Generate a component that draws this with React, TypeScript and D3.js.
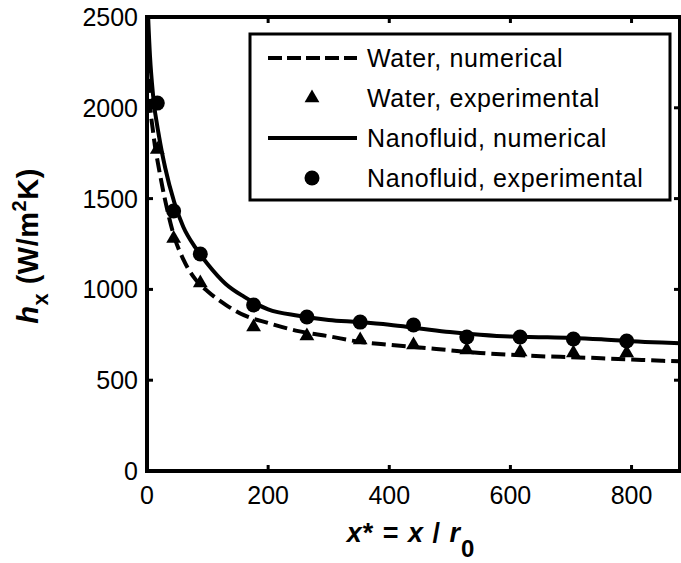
import React from "react";
import * as d3 from "d3";

const xTicks = [0, 200, 400, 600, 800];
const yTicks = [0, 500, 1000, 1500, 2000, 2500];

const xNum = [0, 5, 10, 20, 30, 45, 60, 80, 100, 130, 160, 200, 250, 300, 350, 400, 450, 500, 550, 600, 650, 700, 750, 800, 850, 880];
const waterNum = [2600, 2040, 1870, 1660, 1490, 1290, 1165, 1055, 990, 915, 858, 815, 770, 742, 712, 695, 680, 665, 650, 640, 632, 627, 621, 614, 607, 604];
const nanoNum = [2650, 2280, 2070, 1840, 1670, 1480, 1344, 1230, 1140, 1030, 960, 890, 855, 832, 820, 805, 785, 765, 750, 740, 737, 733, 725, 714, 707, 704];

const xExp = [17, 44, 88, 176, 264, 352, 440, 528, 616, 704, 792];
const waterExp = [1770, 1280, 1035, 793, 743, 721, 694, 666, 655, 650, 650];
const nanoExp = [2026, 1432, 1195, 914, 848, 820, 804, 738, 738, 727, 716];

const legendLabels = ["Water, numerical", "Water, experimental", "Nanofluid, numerical", "Nanofluid, experimental"];

const W = 681, H = 563;
const L = 147, R = 680, T = 17, B = 471;
const FONT = "'Liberation Sans', Arial, Helvetica, sans-serif";

export default function App() {
  const x = d3.scaleLinear().domain([0, 880]).range([L, R]);
  const y = d3.scaleLinear().domain([0, 2500]).range([B, T]);
  const line = d3.line<number>().x((_, i) => x(xNum[i])).y((v) => y(v)).curve(d3.curveMonotoneX);
  const tri = d3.symbol().type(d3.symbolTriangle).size(95);
  const triPath = tri() as string;

  const rows = [58, 98, 138, 178];
  return (
    <svg width={W} height={H} style={{ position: "absolute", left: 0, top: 0, background: "#fff" }} fontFamily={FONT}>
      <defs>
        <clipPath id="plotclip">
          <rect x={L} y={T} width={R - L} height={B - T} />
        </clipPath>
      </defs>
      <rect x={0} y={0} width={W} height={H} fill="#fff" />
      <g clipPath="url(#plotclip)">
        <path d={line(waterNum) || ""} fill="none" stroke="#000" strokeWidth={4} strokeDasharray="14 6" />
        <path d={line(nanoNum) || ""} fill="none" stroke="#000" strokeWidth={4} />
        {xExp.map((xv, i) => (
          <path key={"t" + i} d={triPath} transform={`translate(${x(xv)},${y(waterExp[i])})`} fill="#000" />
        ))}
        {xExp.map((xv, i) => (
          <circle key={"c" + i} cx={x(xv)} cy={y(nanoExp[i])} r={7.5} fill="#000" />
        ))}
      </g>
      {/* axes box */}
      <rect x={L} y={T} width={R - L} height={B - T} fill="none" stroke="#000" strokeWidth={4} />
      {xTicks.map((t) => (
        <g key={"xt" + t}>
          <line x1={x(t)} x2={x(t)} y1={B} y2={B - 6} stroke="#000" strokeWidth={3} />
          <line x1={x(t)} x2={x(t)} y1={T} y2={T + 6} stroke="#000" strokeWidth={3} />
          <text x={x(t)} y={504} textAnchor="middle" fontSize={25}>{t}</text>
        </g>
      ))}
      {yTicks.map((t) => (
        <g key={"yt" + t}>
          <line x1={L} x2={L + 6} y1={y(t)} y2={y(t)} stroke="#000" strokeWidth={3} />
          <line x1={R} x2={R - 6} y1={y(t)} y2={y(t)} stroke="#000" strokeWidth={3} />
          <text x={138} y={y(t) + 9} textAnchor="end" fontSize={25}>{t}</text>
        </g>
      ))}
      {/* x label */}
      <text x={411} y={542} textAnchor="middle" fontSize={27} fontWeight="bold" letterSpacing={1}>
        <tspan fontStyle="italic">x</tspan>
        <tspan>* = </tspan>
        <tspan fontStyle="italic">x</tspan>
        <tspan> / </tspan>
        <tspan fontStyle="italic">r</tspan>
        <tspan dy={15} fontSize={24}>0</tspan>
      </text>
      {/* y label */}
      <text transform={`translate(38,246) rotate(-90)`} textAnchor="middle" fontSize={29} fontWeight="bold" letterSpacing={0.5}>
        <tspan fontStyle="italic">h</tspan>
        <tspan dy={10} fontSize={22}>x</tspan>
        <tspan dy={-10}> (W/m</tspan>
        <tspan dy={-12} fontSize={20}>2</tspan>
        <tspan dy={12}>K)</tspan>
      </text>
      {/* legend */}
      <rect x={250} y={34} width={420} height={166} fill="#fff" stroke="#000" strokeWidth={3} />
      <line x1={268} x2={357} y1={rows[0]} y2={rows[0]} stroke="#000" strokeWidth={4} strokeDasharray="14 5" />
      <path d={triPath} transform={`translate(312,${rows[1]})`} fill="#000" />
      <line x1={268} x2={357} y1={rows[2]} y2={rows[2]} stroke="#000" strokeWidth={4} />
      <circle cx={312} cy={rows[3]} r={7.5} fill="#000" />
      {legendLabels.map((s, i) => (
        <text key={s} x={367} y={rows[i] + 9} fontSize={25} letterSpacing={0.6}>{s}</text>
      ))}
    </svg>
  );
}
